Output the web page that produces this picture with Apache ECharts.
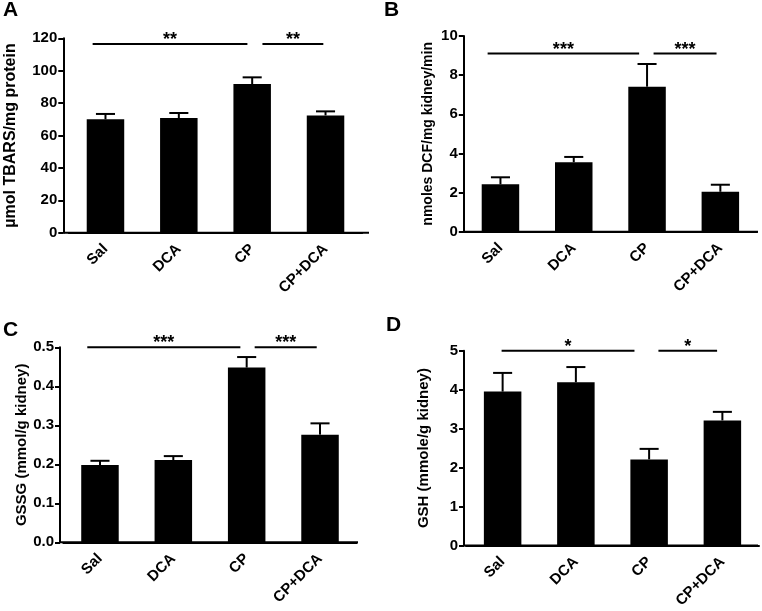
<!DOCTYPE html>
<html>
<head>
<meta charset="utf-8">
<script src="https://cdn.jsdelivr.net/npm/echarts@6/dist/echarts.min.js"></script>
<style>html,body{margin:0;padding:0;background:#fff}#c{width:762px;height:611px}</style>
</head>
<body>
<div id="c"></div>
<script>
// ---- data ----
const categories = ['Sal', 'DCA', 'CP', 'CP+DCA'];

const tbarsMean = [70.0, 70.8, 91.8, 72.4];
const tbarsSem  = [3.3, 3.1, 4.1, 2.5];
const tbarsTicks = [0, 20, 40, 60, 80, 100, 120];

const dcfMean = [2.42, 3.55, 7.41, 2.04];
const dcfSem  = [0.36, 0.27, 1.16, 0.36];
const dcfTicks = [0, 2, 4, 6, 8, 10];

const gssgMean = [0.198, 0.211, 0.448, 0.276];
const gssgSem  = [0.011, 0.010, 0.027, 0.029];
const gssgTicks = ['0.0', '0.1', '0.2', '0.3', '0.4', '0.5'];

const gshMean = [3.95, 4.19, 2.21, 3.21];
const gshSem  = [0.48, 0.39, 0.27, 0.22];
const gshTicks = [0, 1, 2, 3, 4, 5];

// significance brackets: [startCategory, startOffset(band), endCategory, endOffset(band), yValue]
const tbarsSig = [[0, -0.175, 2, -0.065, 116.5], [2, 0.14, 3, -0.03, 116.5]];
const tbarsStars = ['**', '**'];
const dcfSig = [[0, -0.175, 2, -0.108, 9.1], [2, 0.089, 3, -0.052, 9.1]];
const dcfStars = ['***', '***'];
const gssgSig = [[0, -0.173, 2, -0.086, 0.5], [2, 0.109, 3, -0.045, 0.5]];
const gssgStars = ['***', '***'];
const gshSig = [[0, -0.014, 2, -0.2, 5], [2, 0.127, 3, -0.072, 5]];
const gshStars = ['*', '*'];

// ---- layout ----
const FONT = 'Liberation Sans';
const panels = [
  {letter: 'A', lx: 3, ly: 0, name: 'µmol TBARS/mg protein', nameSize: 16, nameGap: 45,
   left: 68.8, right: 399.8, top: 38.3, bottom: 378.3, yOff: 5.5, axisEnd: 369,
   mean: tbarsMean, sem: tbarsSem, ticks: tbarsTicks, sig: tbarsSig, stars: tbarsStars},
  {letter: 'B', lx: 384, ly: 0, name: 'nmoles DCF/mg kidney/min', nameSize: 14, nameGap: 28.5,
   left: 463.8, right: 5, top: 36, bottom: 379.3, yOff: 0, axisEnd: 758,
   mean: dcfMean, sem: dcfSem, ticks: dcfTicks, sig: dcfSig, stars: dcfStars},
  {letter: 'C', lx: 3, ly: 320, name: 'GSSG (mmol/g kidney)', nameSize: 15, nameGap: 31,
   left: 63.3, right: 405.3, top: 347.3, bottom: 68.7, yOff: 3.3, axisEnd: 358,
   mean: gssgMean, sem: gssgSem, ticks: gssgTicks, sig: gssgSig, stars: gssgStars},
  {letter: 'D', lx: 386, ly: 315, name: 'GSH (mmole/g kidney)', nameSize: 15, nameGap: 32.5,
   left: 466, right: 3, top: 350.7, bottom: 65.5, yOff: 2, axisEnd: 758,
   mean: gshMean, sem: gshSem, ticks: gshTicks, sig: gshSig, stars: gshStars}
];

const chart = echarts.init(document.getElementById('c'), null, {renderer: 'canvas'});

function errRender(params, api) {
  const x = api.value(0), m = api.value(1), s = api.value(2);
  const base = api.coord([x, m]);
  const top = api.coord([x, m + s]);
  const half = api.size([1, 0])[0] * 0.13;
  return {type: 'group', children: [
    {type: 'line', shape: {x1: top[0], y1: base[1], x2: top[0], y2: top[1]}, style: {stroke: '#000', lineWidth: 2}},
    {type: 'line', shape: {x1: top[0] - half, y1: top[1], x2: top[0] + half, y2: top[1]}, style: {stroke: '#000', lineWidth: 2}}
  ]};
}

function makeSigRender(stars) {
  return function (params, api) {
    const c1 = api.value(0), o1 = api.value(1), c2 = api.value(2), o2 = api.value(3), y = api.value(4);
    const band = api.size([1, 0])[0];
    const p1 = api.coord([c1, y]), p2 = api.coord([c2, y]);
    const x1 = p1[0] + o1 * band, x2 = p2[0] + o2 * band;
    return {type: 'group', children: [
      {type: 'line', shape: {x1: x1, y1: p1[1], x2: x2, y2: p1[1]}, style: {stroke: '#000', lineWidth: 2}},
      {type: 'text', style: {text: stars[params.dataIndex], x: (x1 + x2) / 2, y: p1[1] - 13,
        align: 'center', verticalAlign: 'top', fontFamily: FONT, fontWeight: 'bold', fontSize: 18, fill: '#000'}}
    ]};
  };
}

const grids = [], xAxes = [], yAxes = [], series = [], graphics = [];
panels.forEach((p, i) => {
  grids.push({left: p.left, right: p.right, top: p.top, bottom: p.bottom, containLabel: false, outerBoundsMode: 'none'});
  xAxes.push({
    type: 'category', gridIndex: i, data: categories,
    axisLine: {lineStyle: {color: '#000', width: 2}},
    axisTick: {alignWithLabel: true, length: 5, lineStyle: {color: '#000', width: 2}},
    axisLabel: {rotate: 45, interval: 0, margin: 14, color: '#000', fontFamily: FONT, fontWeight: 'bold', fontSize: 15}
  });
  const n = p.ticks.length - 1;
  const maxV = Number(p.ticks[n]);
  yAxes.push({
    type: 'value', gridIndex: i, min: 0, max: maxV, interval: maxV / n, offset: p.yOff,
    splitLine: {show: false},
    axisLine: {show: true, lineStyle: {color: '#000', width: 2}},
    axisTick: {show: true, length: 5, lineStyle: {color: '#000', width: 2}},
    axisLabel: {margin: 6, color: '#000', fontFamily: FONT, fontWeight: 'bold', fontSize: 15,
      formatter: (v) => { const k = Math.round(v / (maxV / n)); return String(p.ticks[k]); }},
    name: p.name, nameLocation: 'middle', nameRotate: 90, nameGap: p.nameGap,
    nameTextStyle: {color: '#000', fontFamily: FONT, fontWeight: 'bold', fontSize: p.nameSize}
  });
  series.push({
    type: 'bar', xAxisIndex: i, yAxisIndex: i, data: p.mean, barWidth: 37.5,
    itemStyle: {color: '#000'}, z: 2
  });
  series.push({
    type: 'custom', xAxisIndex: i, yAxisIndex: i, renderItem: errRender,
    data: p.mean.map((m, k) => [k, m, p.sem[k]]), z: 1
  });
  series.push({
    type: 'custom', xAxisIndex: i, yAxisIndex: i, renderItem: makeSigRender(p.stars),
    data: p.sig, z: 3
  });
  // x-axis baseline extension from the y-axis line to axis end
  const baseY = 611 - p.bottom;
  graphics.push({type: 'line', shape: {x1: p.left - p.yOff, y1: baseY, x2: p.axisEnd, y2: baseY},
    style: {stroke: '#000', lineWidth: 2}, z: 10});
  graphics.push({type: 'text', left: p.lx, top: p.ly,
    style: {text: p.letter, fontFamily: FONT, fontWeight: 'bold', fontSize: 21, fill: '#000'}});
});

chart.setOption({
  animation: false,
  backgroundColor: '#fff',
  textStyle: {fontFamily: FONT},
  grid: grids, xAxis: xAxes, yAxis: yAxes, series: series, graphic: graphics
});
</script>
</body>
</html>
